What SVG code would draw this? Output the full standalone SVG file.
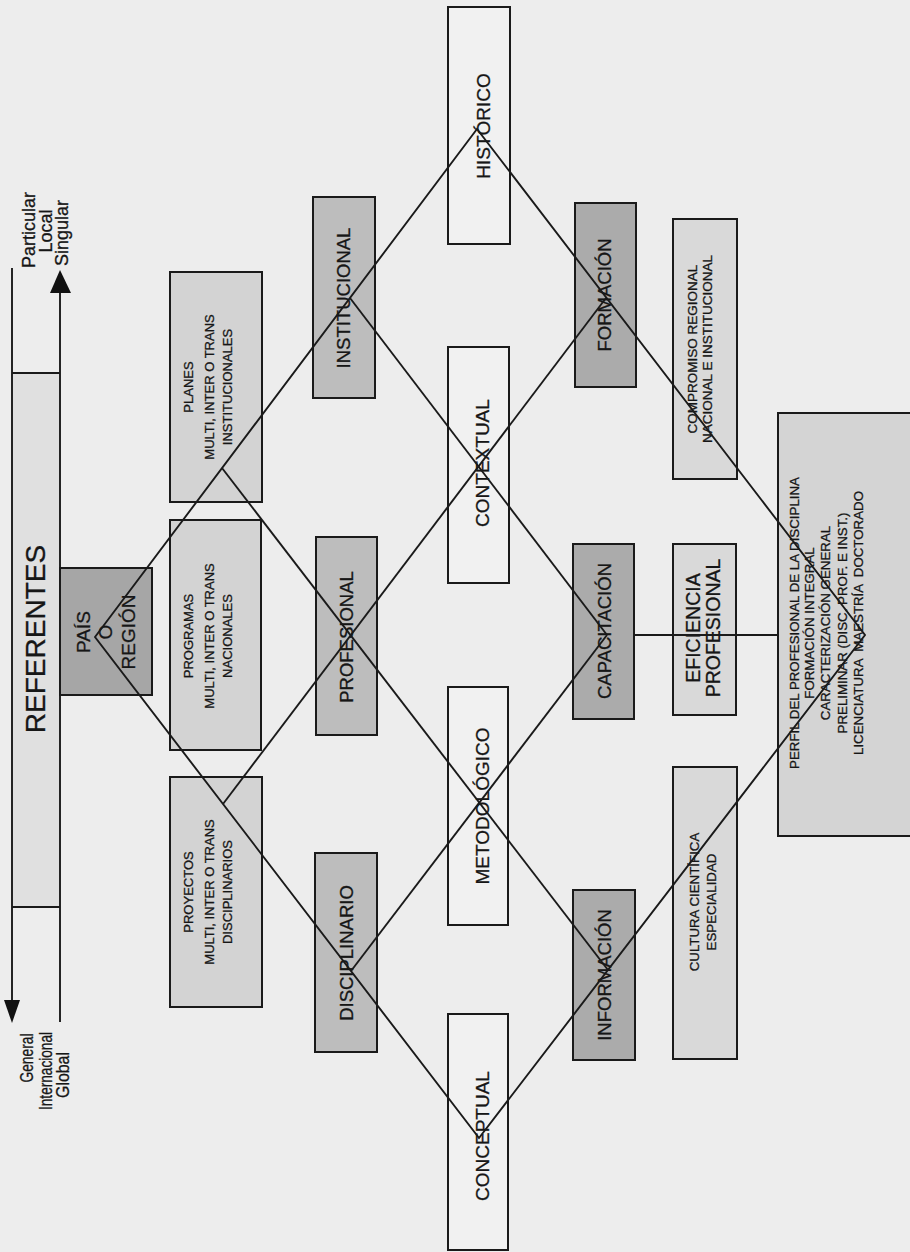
<svg xmlns="http://www.w3.org/2000/svg" width="910" height="1252" viewBox="0 0 910 1252">
  <style>
    .t { font-family: "Liberation Sans", Arial, sans-serif; text-anchor: middle; fill: #161616; stroke: #161616; stroke-width: 0.3; }
    .box { stroke: #1a1a1a; stroke-width: 2; }
    .fa { fill: #d3d3d3; }
    .fp { fill: #a6a6a6; }
    .fb { fill: #bdbdbd; }
    .fc { fill: #f1f1f1; }
    .fd { fill: #ababab; }
    .fe { fill: #d9d9d9; }
    .ff { fill: #d4d4d4; }
    .ln { stroke: #1a1a1a; stroke-width: 1.9; fill: none; }
  </style>
  <rect width="910" height="1252" fill="#ededed"/>

  <!-- scale of referents: general ↔ particular -->
  <g id="referentes">
    <rect x="12" y="373" width="48" height="534" fill="#e0e0e0"/>
    <line class="ln" x1="12" y1="268" x2="12" y2="1002"/>
    <polygon points="4,1000 20,1000 12,1023" fill="#111"/>
    <line class="ln" x1="60" y1="1022" x2="60" y2="290"/>
    <polygon points="50,293 71,293 60,270" fill="#111"/>
    <line class="ln" x1="12" y1="373" x2="60" y2="373"/>
    <line class="ln" x1="12" y1="907" x2="60" y2="907"/>
    <text class="t" font-size="28" transform="translate(45,639) rotate(-90)">REFERENTES</text>
    <g font-size="18">
      <text class="t" transform="translate(35,230) rotate(-90)">Particular</text>
      <text class="t" transform="translate(52,231) rotate(-90)">Local</text>
      <text class="t" transform="translate(68,233) rotate(-90)">Singular</text>
      <text class="t" transform="translate(33,1058) rotate(-90)" textLength="49" lengthAdjust="spacingAndGlyphs">General</text>
      <text class="t" transform="translate(52,1071) rotate(-90)" textLength="78" lengthAdjust="spacingAndGlyphs">Internacional</text>
      <text class="t" transform="translate(69,1075) rotate(-90)" textLength="46" lengthAdjust="spacingAndGlyphs">Global</text>
    </g>
  </g>

  <g id="pais-region">
    <rect class="box fp" x="60" y="568" width="92" height="127"/>
    <g font-size="19">
      <text class="t" transform="translate(90,632) rotate(-90)">PAÍS</text>
      <text class="t" transform="translate(112,632) rotate(-90)">O</text>
      <text class="t" transform="translate(135,632) rotate(-90)">REGIÓN</text>
    </g>
  </g>

  <g id="planes" font-size="13">
    <rect class="box fa" x="170" y="272" width="92" height="230"/>
    <text class="t" transform="translate(193,387) rotate(-90)">PLANES</text>
    <text class="t" transform="translate(214,387) rotate(-90)">MULTI, INTER O TRANS</text>
    <text class="t" transform="translate(232,387) rotate(-90)">INSTITUCIONALES</text>
  </g>
  <g id="programas" font-size="13">
    <rect class="box fa" x="170" y="520" width="91" height="230"/>
    <text class="t" transform="translate(193,636) rotate(-90)">PROGRAMAS</text>
    <text class="t" transform="translate(214,636) rotate(-90)">MULTI, INTER O TRANS</text>
    <text class="t" transform="translate(232,636) rotate(-90)">NACIONALES</text>
  </g>
  <g id="proyectos" font-size="13">
    <rect class="box fa" x="170" y="777" width="92" height="230"/>
    <text class="t" transform="translate(193,892) rotate(-90)">PROYECTOS</text>
    <text class="t" transform="translate(214,892) rotate(-90)">MULTI, INTER O TRANS</text>
    <text class="t" transform="translate(232,892) rotate(-90)">DISCIPLINARIOS</text>
  </g>

  <g id="institucional">
    <rect class="box fb" x="313" y="197" width="62" height="201"/>
    <text class="t" font-size="18.5" transform="translate(350,298) rotate(-90)">INSTITUCIONAL</text>
  </g>
  <g id="profesional">
    <rect class="box fb" x="316" y="537" width="61" height="198"/>
    <text class="t" font-size="18.5" transform="translate(353,637) rotate(-90)">PROFESIONAL</text>
  </g>
  <g id="disciplinario">
    <rect class="box fb" x="315" y="853" width="62" height="199"/>
    <text class="t" font-size="18.5" transform="translate(353,953) rotate(-90)">DISCIPLINARIO</text>
  </g>

  <g id="historico">
    <rect class="box fc" x="448" y="7" width="62" height="237"/>
    <text class="t" font-size="19" transform="translate(490,126) rotate(-90)">HISTÓRICO</text>
  </g>
  <g id="contextual">
    <rect class="box fc" x="448" y="347" width="61" height="236"/>
    <text class="t" font-size="19" transform="translate(489,463) rotate(-90)">CONTEXTUAL</text>
  </g>
  <g id="metodologico">
    <rect class="box fc" x="448" y="687" width="60" height="238"/>
    <text class="t" font-size="19" transform="translate(489,806) rotate(-90)">METODOLÓGICO</text>
  </g>
  <g id="conceptual">
    <rect class="box fc" x="448" y="1014" width="60" height="236"/>
    <text class="t" font-size="19" transform="translate(489,1136) rotate(-90)">CONCEPTUAL</text>
  </g>

  <g id="formacion">
    <rect class="box fd" x="575" y="203" width="61" height="184"/>
    <text class="t" font-size="18.5" transform="translate(611,295) rotate(-90)">FORMACIÓN</text>
  </g>
  <g id="capacitacion">
    <rect class="box fd" x="573" y="544" width="61" height="175"/>
    <text class="t" font-size="18.5" transform="translate(611,631) rotate(-90)">CAPACITACIÓN</text>
  </g>
  <g id="informacion">
    <rect class="box fd" x="573" y="890" width="62" height="170"/>
    <text class="t" font-size="18.5" transform="translate(611,975) rotate(-90)">INFORMACIÓN</text>
  </g>

  <g id="compromiso" font-size="13.5">
    <rect class="box fe" x="673" y="219" width="64" height="260"/>
    <text class="t" transform="translate(697,349) rotate(-90)">COMPROMISO REGIONAL</text>
    <text class="t" transform="translate(712,349) rotate(-90)">NACIONAL E INSTITUCIONAL</text>
  </g>
  <g id="eficiencia" font-size="19.5">
    <rect class="box fe" x="673" y="544" width="63" height="171"/>
    <text class="t" transform="translate(700,628) rotate(-90)">EFICIENCIA</text>
    <text class="t" transform="translate(720,628) rotate(-90)">PROFESIONAL</text>
  </g>
  <g id="cultura" font-size="13.3">
    <rect class="box fe" x="673" y="767" width="64" height="292"/>
    <text class="t" transform="translate(699,902) rotate(-90)">CULTURA CIENTÍFICA</text>
    <text class="t" transform="translate(716,902) rotate(-90)">ESPECIALIDAD</text>
  </g>

  <g id="perfil" font-size="13.3">
    <rect class="box ff" x="778" y="413" width="142" height="423"/>
    <text class="t" transform="translate(799,623) rotate(-90)">PERFIL DEL PROFESIONAL DE LA DISCIPLINA</text>
    <text class="t" transform="translate(814,623) rotate(-90)">FORMACIÓN INTEGRAL</text>
    <text class="t" transform="translate(830,623) rotate(-90)">CARACTERIZACIÓN GENERAL</text>
    <text class="t" transform="translate(847,623) rotate(-90)">PRELIMINAR (DISC. PROF. E INST.)</text>
    <text class="t" transform="translate(863,623) rotate(-90)" xml:space="preserve">LICENCIATURA  MAESTRÍA  DOCTORADO</text>
  </g>

  <!-- lattice of diamond connectors drawn over the boxes -->
  <g id="connectors">
    <polygon class="ln" points="95,637 477,129 865,635 479,1138"/>
    <line class="ln" x1="223" y1="804" x2="606" y2="298"/>
    <line class="ln" x1="351" y1="971" x2="607" y2="635"/>
    <line class="ln" x1="222" y1="468" x2="608" y2="970"/>
    <line class="ln" x1="350" y1="298" x2="607" y2="635"/>
    <line class="ln" x1="634" y1="635" x2="778" y2="635"/>
  </g>
</svg>
